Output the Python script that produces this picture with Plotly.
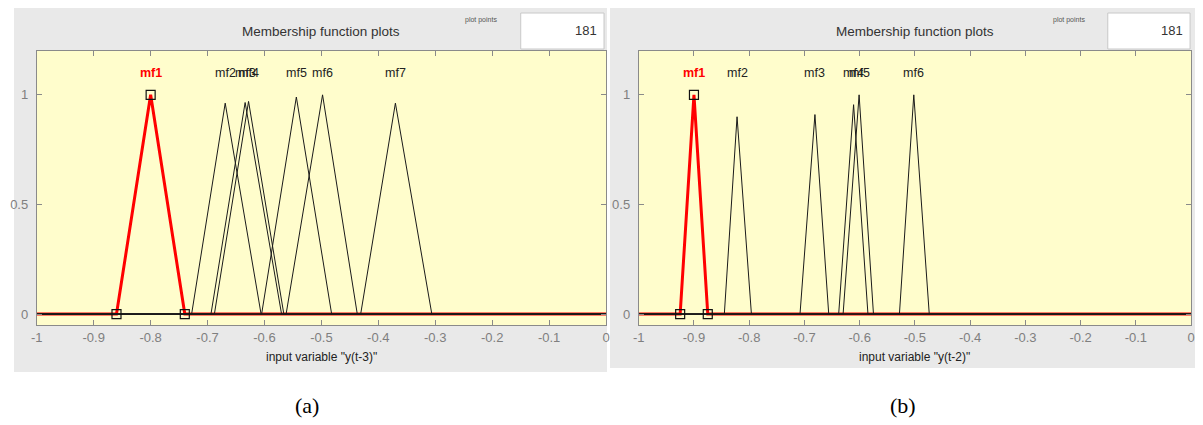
import plotly.graph_objects as go

# The page body keeps its default 8px margin, so the figure is drawn 8px in
# from the top-left corner; it is sized to fill the rest of the window.
WIN_W, WIN_H = 1203, 425
OFF = 8
W, H = WIN_W - OFF, WIN_H - OFF

# ---------------- data ----------------
x_tick_vals = [-1, -0.9, -0.8, -0.7, -0.6, -0.5, -0.4, -0.3, -0.2, -0.1, 0]
x_tick_text = ["-1", "-0.9", "-0.8", "-0.7", "-0.6", "-0.5", "-0.4", "-0.3", "-0.2", "-0.1", "0"]
y_tick_vals = [0, 0.5, 1]
y_tick_text = ["0", "0.5", "1"]

# panel (a): triangular MFs of input "y(t-3)"
a_names = ["mf1", "mf2", "mf3", "mf4", "mf5", "mf6", "mf7"]
a_left = [-0.86, -0.728, -0.694, -0.688, -0.605, -0.562, -0.431]
a_peak = [-0.80, -0.669, -0.634, -0.628, -0.544, -0.498, -0.370]
a_right = [-0.74, -0.606, -0.570, -0.566, -0.482, -0.437, -0.306]
a_height = [1.0, 0.962, 0.965, 0.970, 0.99, 1.0, 0.962]
a_var = 'input variable "y(t-3)"'

# panel (b): triangular MFs of input "y(t-2)"
b_names = ["mf1", "mf2", "mf3", "mf4", "mf5", "mf6"]
b_left = [-0.925, -0.845, -0.708, -0.638, -0.630, -0.528]
b_peak = [-0.900, -0.822, -0.681, -0.611, -0.601, -0.502]
b_right = [-0.875, -0.796, -0.656, -0.585, -0.575, -0.474]
b_height = [1.0, 0.90, 0.91, 0.955, 1.0, 1.0]
b_var = 'input variable "y(t-2)"'

x_range = [-1, 0]
y_range = [-0.05, 1.2]
label_y = 1.1
plot_points = "181"
captions = ["(a)", "(b)"]

# ---------------- layout helpers (window pixels -> paper fraction) ----------------
def px(x):
    return max(0.0, min(1.0, (x - OFF) / W))

def py(y):
    return max(0.0, min(1.0, 1 - (y - OFF) / H))

panels = [
    dict(xa="x", ya="y", names=a_names, left=a_left, peak=a_peak, right=a_right,
         height=a_height, var=a_var, plot=(31, 605, 51, 325), grey=(4, 606, 8, 372),
         box=(519, 603, 13, 49), pp_x=479, cap_x=303),
    dict(xa="x2", ya="y2", names=b_names, left=b_left, peak=b_peak, right=b_right,
         height=b_height, var=b_var, plot=(638, 1195, 51, 325), grey=(609, 1203, 8, 368),
         box=(1111, 1194, 13, 49), pp_x=1072, cap_x=905),
]

SANS = "Liberation Sans, Arial, sans-serif"
YELLOW = "#FFFDCC"
GREY = "#E9E9E9"
AXC = "#8A8A8A"

fig = go.Figure()
shapes = []
annotations = []

for i, p in enumerate(panels):
    xa, ya = p["xa"], p["ya"]
    x0, x1, y0, y1 = p["plot"]
    g = p["grey"]
    shapes.append(dict(type="rect", xref="paper", yref="paper", layer="below",
                       x0=px(g[0]), x1=px(g[1]), y0=py(g[3]), y1=py(g[2]),
                       fillcolor=GREY, line=dict(width=0)))
    bx = p["box"]
    shapes.append(dict(type="rect", xref="paper", yref="paper", layer="below",
                       x0=px(bx[0]), x1=px(bx[1]), y0=py(bx[3]), y1=py(bx[2]),
                       fillcolor="white", line=dict(color="#C8C8C8", width=1)))
    shapes.append(dict(type="rect", xref=xa + " domain", yref=ya + " domain", layer="below",
                       x0=0, x1=1, y0=0, y1=1, fillcolor=YELLOW, line=dict(width=0)))

    n = len(p["names"])
    # selected MF (red, thick) first, then the others in thin dark lines on top
    for k in range(n):
        xs = [x_range[0], p["left"][k], p["peak"][k], p["right"][k], x_range[1]]
        ys = [0, 0, p["height"][k], 0, 0]
        if k == 0:
            line = dict(color="#FF0000", width=3)
        else:
            line = dict(color="#1A1A1A", width=1)
        fig.add_trace(go.Scatter(x=xs, y=ys, mode="lines", line=line, xaxis=xa, yaxis=ya,
                                 hoverinfo="skip", showlegend=False))
    # vertex handles of the selected MF
    fig.add_trace(go.Scatter(x=[p["left"][0], p["peak"][0], p["right"][0]],
                             y=[0, p["height"][0], 0], mode="markers",
                             marker=dict(symbol="square-open", size=9, color="#111111",
                                         line=dict(width=1.2)),
                             xaxis=xa, yaxis=ya, hoverinfo="skip", showlegend=False))

    for k in range(n):
        sel = k == 0
        annotations.append(dict(xref=xa, yref=ya, x=p["peak"][k], y=label_y,
                                text=("<b>%s</b>" % p["names"][k]) if sel else p["names"][k],
                                showarrow=False, xanchor="center", yanchor="middle",
                                font=dict(family=SANS, size=12.5,
                                          color="#FF0000" if sel else "#222222")))

    annotations.append(dict(xref=xa + " domain", yref="paper", x=0.5, y=py(32),
                            text="Membership function plots", showarrow=False,
                            xanchor="center", yanchor="middle",
                            font=dict(family=SANS, size=13.5, color="#333333")))
    annotations.append(dict(xref="paper", yref="paper", x=px(p["pp_x"]), y=py(20),
                            text="plot points", showarrow=False, xanchor="center",
                            yanchor="middle", font=dict(family=SANS, size=7, color="#555555")))
    annotations.append(dict(xref="paper", yref="paper", x=px(bx[1] - 5), y=py(31),
                            text=plot_points, showarrow=False, xanchor="right",
                            yanchor="middle", font=dict(family=SANS, size=13, color="#333333")))
    annotations.append(dict(xref=xa + " domain", yref="paper", x=0.5, y=py(357),
                            text=p["var"], showarrow=False, xanchor="center",
                            yanchor="middle", font=dict(family=SANS, size=12, color="#222222")))
    annotations.append(dict(xref="paper", yref="paper", x=px(p["cap_x"]), y=py(405),
                            text=captions[i], showarrow=False, xanchor="center",
                            yanchor="middle",
                            font=dict(family="Liberation Serif, Times New Roman, serif",
                                      size=22, color="#000000")))

    axis_common = dict(showgrid=False, zeroline=False, showline=True, linecolor=AXC,
                       linewidth=1, mirror="ticks", ticks="inside", ticklen=5,
                       tickcolor=AXC, tickwidth=1,
                       tickfont=dict(family=SANS, size=13, color="#7F7F7F"))
    xkey = "xaxis" if i == 0 else "xaxis2"
    ykey = "yaxis" if i == 0 else "yaxis2"
    fig.update_layout(**{
        xkey: dict(domain=[px(x0), px(x1)], range=x_range, anchor=ya,
                   tickvals=x_tick_vals, ticktext=x_tick_text, **axis_common),
        ykey: dict(domain=[py(y1), py(y0)], range=y_range, anchor=xa,
                   tickvals=y_tick_vals, ticktext=y_tick_text, ticklabelstandoff=5,
                   **axis_common),
    })

fig.update_layout(width=W, height=H, margin=dict(l=0, r=0, t=0, b=0),
                  paper_bgcolor="white", plot_bgcolor="rgba(0,0,0,0)",
                  shapes=shapes, annotations=annotations, showlegend=False)

fig.write_html("out.html")
